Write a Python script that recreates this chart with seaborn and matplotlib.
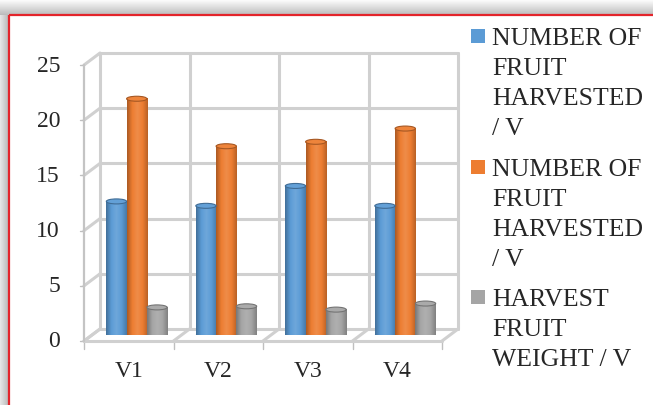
import numpy as np
import pandas as pd
import matplotlib
matplotlib.use("Agg")
import matplotlib.pyplot as plt
from matplotlib.patches import Ellipse, Rectangle
from matplotlib.colors import LinearSegmentedColormap, to_rgb
import seaborn as sns

# ---------------- data ----------------
categories = ["V1", "V2", "V3", "V4"]
series_keys = ["s1", "s2", "s3"]
series_labels = [
    ["NUMBER OF", "FRUIT", "HARVESTED", "/ V"],
    ["NUMBER OF", "FRUIT", "HARVESTED", "/ V"],
    ["HARVEST", "FRUIT", "WEIGHT / V"],
]
fruit_count_a = [12.1, 11.7, 13.5, 11.7]
fruit_count_b = [21.4, 17.1, 17.5, 18.7]
fruit_weight = [2.5, 2.6, 2.3, 2.85]
series_colors = ["#5B9BD5", "#ED7D31", "#A5A5A5"]
y_ticks = [0, 5, 10, 15, 20, 25]

df = pd.DataFrame({
    "variety": categories * 3,
    "series": [k for k in series_keys for _ in categories],
    "value": fruit_count_a + fruit_count_b + fruit_weight,
})

# ---------------- geometry (pixels) ----------------
W, H = 653, 406
FX0, CW = 84.0, 89.5      # front left x, width per category
FY0, UY = 342.0, 11.04    # front y of 0, px per unit
DX, DY = 16.0, 12.0       # depth offset front->back
YMAX = 25


def P(xd, yd, depth):
    return FX0 + (xd + 0.5) * CW + depth * DX, FY0 - yd * UY - depth * DY


sns.set_style("white")
plt.rcParams["font.family"] = ["Liberation Serif", "DejaVu Serif"]

fig = plt.figure(figsize=(W / 100, H / 100), dpi=100)
fig.patch.set_facecolor("white")

deco = fig.add_axes([0, 0, 1, 1], zorder=0)
deco.set_xlim(0, W)
deco.set_ylim(H, 0)
deco.axis("off")

# ---- frame shadow + red border ----
top_grad = np.linspace(1.0, 0.74, 16).reshape(-1, 1)
deco.imshow(np.dstack([top_grad] * 3) * np.ones((16, 2, 1)), extent=[0, W, 16, 0],
            aspect="auto", interpolation="bilinear", zorder=0)
left_grad = np.linspace(0.9, 0.72, 9).reshape(1, -1)
deco.imshow(np.dstack([left_grad] * 3) * np.ones((2, 9, 1)), extent=[0, 9, H, 16],
            aspect="auto", interpolation="bilinear", zorder=0)
deco.plot([9, W], [16, 16], color="#e3242b", lw=1.6, zorder=1, solid_capstyle="butt")
deco.plot([9, 9], [16, H], color="#e3242b", lw=1.6, zorder=1, solid_capstyle="butt")
deco.set_xlim(0, W)
deco.set_ylim(H, 0)

# ---- 3D walls ----
wall_c = "#d0d0d0"
wlw = 2.2
for v in y_ticks:
    x1, y1 = P(-0.5, v, 1)
    x2, y2 = P(len(categories) - 0.5, v, 1)
    deco.plot([x1, x2], [y1, y2], color=wall_c, lw=wlw, zorder=2)
    xa, ya = P(-0.5, v, 0)
    deco.plot([xa, x1], [ya, y1], color=wall_c, lw=wlw, zorder=2)
    deco.plot([xa - 4, xa], [ya, ya], color="#bfbfbf", lw=1.0, zorder=2)
for k in range(len(categories) + 1):
    x1, y1 = P(k - 0.5, 0, 1)
    x2, y2 = P(k - 0.5, YMAX, 1)
    deco.plot([x1, x2], [y1, y2], color=wall_c, lw=wlw, zorder=2)
    xf, yf = P(k - 0.5, 0, 0)
    deco.plot([xf, x1], [yf, y1], color=wall_c, lw=wlw, zorder=2)
    deco.plot([xf, xf], [yf, yf + 8], color="#bfbfbf", lw=1.0, zorder=2)
# front floor edge and front y axis
xa, ya = P(-0.5, 0, 0)
xb, yb = P(len(categories) - 0.5, 0, 0)
deco.plot([xa, xb], [ya, yb], color=wall_c, lw=wlw, zorder=2)
xa2, ya2 = P(-0.5, YMAX, 0)
deco.plot([xa, xa2], [ya, ya2], color="#c4c4c4", lw=1.6, zorder=2)

# ---- tick labels ----
txt_c = "#262626"
for v in y_ticks:
    _, yy = P(-0.5, v, 0)
    deco.text(60, yy, str(v), ha="right", va="center", fontsize=17, color=txt_c)
for k, c in enumerate(categories):
    xx, _ = P(k, 0, 0)
    deco.text(xx, 372, c, ha="center", va="center", fontsize=17, color=txt_c)

# ---------------- bars ----------------
bx0, by0 = P(-0.5, 0, 0.5)
bx1, by1 = P(len(categories) - 0.5, YMAX, 0.5)
ax = fig.add_axes([bx0 / W, 1 - by0 / H, (bx1 - bx0) / W, (by0 - by1) / H], zorder=1)
ax.patch.set_alpha(0)

sns.barplot(data=df, x="variety", y="value", hue="series", hue_order=series_keys,
            order=categories, palette=series_colors, saturation=1, width=0.68,
            dodge=True, legend=False, ax=ax, errorbar=None, linewidth=0)
ax.set_xlim(-0.5, len(categories) - 0.5)
ax.set_ylim(0, YMAX)
ax.axis("off")


def shade(c, f):
    r = np.array(to_rgb(c))
    if f >= 0:
        return tuple(r + (1 - r) * f)
    return tuple(r * (1 + f))


cap_h = 5.0 / UY
bars = [p for p in ax.patches if isinstance(p, Rectangle) and p.get_height() > 0]
for p in bars:
    base = p.get_facecolor()[:3]
    x0, w, h = p.get_x(), p.get_width(), p.get_height()
    cmap = LinearSegmentedColormap.from_list(
        "cyl", [shade(base, -0.28), shade(base, 0.0), shade(base, 0.12),
                shade(base, 0.0), shade(base, -0.22)])
    grad = np.linspace(0, 1, 64).reshape(1, -1)
    ax.imshow(grad, cmap=cmap, extent=[x0, x0 + w, 0, h], aspect="auto",
              interpolation="bilinear", zorder=3)
    ax.add_patch(Ellipse((x0 + w / 2, 0), w, cap_h, facecolor=shade(base, -0.1),
                         edgecolor="none", zorder=2.9))
    ax.add_patch(Ellipse((x0 + w / 2, h), w, cap_h, facecolor=shade(base, 0.05),
                         edgecolor=shade(base, -0.3), lw=0.8, zorder=4))
ax.set_xlim(-0.5, len(categories) - 0.5)
ax.set_ylim(0, YMAX)

# ---------------- legend ----------------
leg_tops = [27, 158, 288]
for key_i, (col, lines) in enumerate(zip(series_colors, series_labels)):
    top = leg_tops[key_i]
    deco.add_patch(Rectangle((471, top + 3), 14, 14, facecolor=col, edgecolor="none", zorder=3))
    for li, line in enumerate(lines):
        deco.text(492, top + 18 + 30 * li, line, ha="left", va="baseline",
                  fontsize=18.5, color=txt_c, zorder=3)

fig.savefig("out.png", dpi=100)
